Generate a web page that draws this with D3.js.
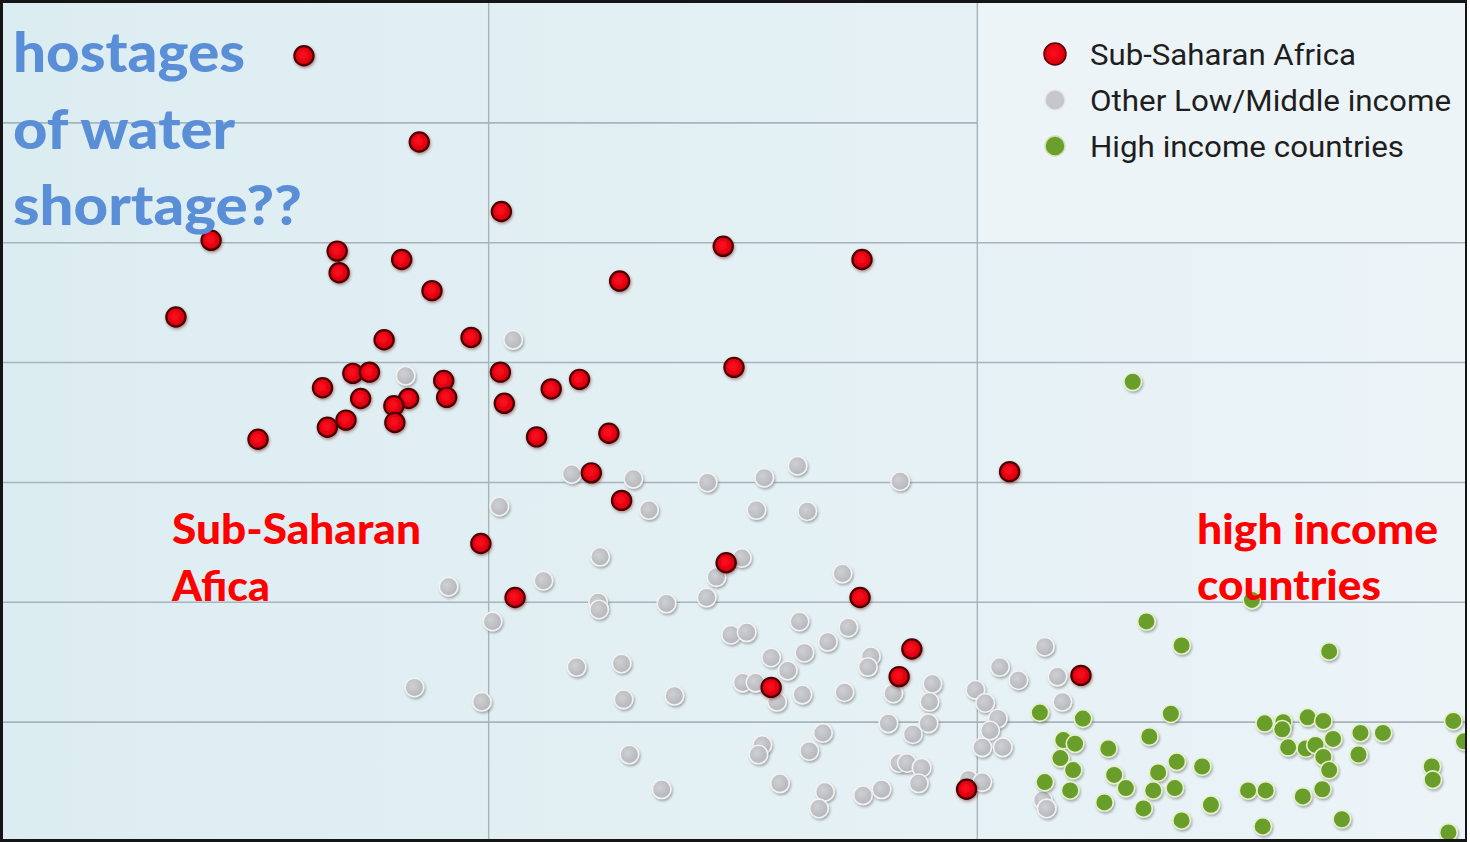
<!DOCTYPE html>
<html><head><meta charset="utf-8">
<script src="https://cdn.jsdelivr.net/npm/d3@7"></script>
<style>html,body{margin:0;padding:0;background:#fff;overflow:hidden}</style>
</head><body>
<svg id="chart" width="1470" height="842"></svg>
<script>
// Data (x: arbitrary 0-150 units, y: 0-70 units)
const africaX = [31.1,42.9,51.3,21.6,34.5,34.7,41.1,44.2,18.0,74.0,88.2,63.4,39.3,48.2,36.1,37.8,33.0,45.4,45.7,36.9,41.8,40.3,40.4,35.4,33.5,26.4,51.2,51.6,56.4,59.3,75.1,54.9,62.3,60.5,63.6,49.2,52.7,74.3,88.0,93.3,92.0,78.9,103.3,110.6,98.9];
const africaY = [65.6,58.4,52.6,50.2,49.3,47.5,48.6,46.0,43.8,49.7,48.6,46.8,41.9,42.1,39.1,39.2,37.9,38.5,37.1,37.0,37.0,36.4,35.0,35.2,34.6,33.6,39.2,36.6,37.8,38.6,39.6,33.8,34.1,30.8,28.5,24.9,20.4,23.3,20.4,16.1,13.8,12.9,30.9,13.9,4.4];

const otherX = [41.5,52.5,58.5,64.8,72.4,78.2,81.6,92.1,51.1,66.4,77.4,82.6,61.4,55.6,45.9,61.2,61.3,50.4,68.2,72.3,75.9,73.3,86.2,59.0,63.6,42.4,49.3,63.8,69.0,64.4,67.7,81.8,74.8,76.4,86.8,84.7,82.3,78.9,80.6,89.1,88.8,76.0,77.3,79.5,82.1,86.4,91.4,95.4,95.1,90.9,95.0,93.4,84.2,78.0,77.6,82.8,92.0,92.8,94.3,94.0,79.8,84.4,83.8,88.3,90.2,99.8,100.8,102.1,101.3,100.5,102.6,102.3,104.2,106.9,108.2,108.7,99.1,100.5,106.7,107.1];
const otherY = [38.9,41.9,30.7,30.3,30.0,30.4,31.4,30.1,28.0,27.7,27.7,27.6,23.8,21.8,21.3,20.0,19.4,18.4,19.9,20.4,23.7,22.1,22.4,14.6,14.9,12.9,11.7,11.9,12.2,7.3,4.4,18.4,17.3,17.5,17.9,16.7,15.8,15.4,14.3,15.5,14.6,13.3,13.3,11.7,12.3,12.5,12.4,13.2,11.7,9.9,9.9,9.0,9.1,8.1,7.3,7.6,6.6,6.6,6.2,4.9,4.9,4.2,2.8,3.9,4.4,12.7,11.6,10.3,9.3,7.9,7.9,14.6,13.5,16.3,13.8,11.7,5.2,5.0,3.5,2.8];

const highX = [115.9,128.1,117.3,120.9,136.0,106.4,110.8,119.8,129.4,131.3,133.8,135.4,131.2,139.2,141.5,148.7,149.8,108.8,110.0,113.4,117.6,131.8,133.6,134.6,136.4,135.4,139.0,108.5,109.8,120.4,123.0,118.5,136.0,146.5,146.6,106.9,109.5,114.0,115.2,118.0,120.2,127.7,129.5,135.3,133.3,113.0,117.0,123.9,120.9,129.2,137.3,148.2];
const highY = [38.4,20.2,18.4,16.4,15.9,10.8,10.3,10.7,9.9,10.0,10.4,10.1,9.4,9.1,9.1,10.1,8.4,8.5,8.2,7.8,8.8,7.9,7.8,8.1,8.6,7.1,7.3,7.0,6.0,6.7,6.3,5.8,6.0,6.3,5.2,5.0,4.3,5.6,4.5,4.3,4.5,4.3,4.3,4.4,3.8,3.3,2.8,3.1,1.8,1.3,1.9,0.8];

const xGridValues = [50, 100];
const yGridValues = [10, 20, 30, 40, 50, 60];
const legendLabels = ["Sub-Saharan Africa", "Other Low/Middle income", "High income countries"];
const titleLines = ["hostages", "of water", "shortage??"];
const africaNote = ["Sub-Saharan", "Afica"];
const highNote = ["high income", "countries"];

const svg = d3.select("#chart");
const W = 1470, H = 842;
const x = d3.scaleLinear().domain([0, 150]).range([0, 1466]);
const y = d3.scaleLinear().domain([0, 70]).range([842, 3]);

const defs = svg.append("defs");
const bg = defs.append("linearGradient").attr("id","bg").attr("x1","0").attr("x2","1").attr("y1","0").attr("y2","0");
bg.append("stop").attr("offset","0").attr("stop-color","#dcedf1");
bg.append("stop").attr("offset","0.5").attr("stop-color","#e3f0f4");
bg.append("stop").attr("offset","1").attr("stop-color","#ecf4f8");
const sh = defs.append("filter").attr("id","sh").attr("x","-50%").attr("y","-50%").attr("width","200%").attr("height","200%");
sh.append("feDropShadow").attr("dx",1.2).attr("dy",1.8).attr("stdDeviation",1.2).attr("flood-color","#555").attr("flood-opacity",0.45);
const shr = defs.append("filter").attr("id","shr").attr("x","-50%").attr("y","-50%").attr("width","200%").attr("height","200%");
shr.append("feDropShadow").attr("dx",0.8).attr("dy",1.5).attr("stdDeviation",1.5).attr("flood-color","#600").attr("flood-opacity",0.45);
const rg = defs.append("radialGradient").attr("id","redg").attr("cx","0.45").attr("cy","0.45").attr("r","0.6");
rg.append("stop").attr("offset","0").attr("stop-color","#ff1020");
rg.append("stop").attr("offset","0.7").attr("stop-color","#e0000e");
rg.append("stop").attr("offset","1").attr("stop-color","#b0000a");
const gg = defs.append("radialGradient").attr("id","grayg").attr("cx","0.4").attr("cy","0.4").attr("r","0.65");
gg.append("stop").attr("offset","0").attr("stop-color","#cfd0d4");
gg.append("stop").attr("offset","1").attr("stop-color","#b4b5ba");

svg.append("rect").attr("x",0).attr("y",0).attr("width",W).attr("height",H).attr("fill","url(#bg)");
// lighter legend area
svg.append("rect").attr("x", x(100)+2).attr("y", 3).attr("width", 1462 - x(100) - 2).attr("height", y(50) - 4).attr("fill","#edf4f8");

// grid
const g = svg.append("g");
yGridValues.forEach(v => {
  g.append("line").attr("x1", 0).attr("x2", v === 60 ? x(100) : 1466)
    .attr("y1", y(v)).attr("y2", y(v)).attr("stroke","#a8b4ba").attr("stroke-width",1.6);
});
xGridValues.forEach(v => {
  g.append("line").attr("x1", x(v)).attr("x2", x(v)).attr("y1", 0).attr("y2", H)
    .attr("stroke","#a8b4ba").attr("stroke-width",1.4);
});

// points
const otherData = otherX.map((v,i)=>({x:v,y:otherY[i]}));
const highData = highX.map((v,i)=>({x:v,y:highY[i]}));
const afrData = africaX.map((v,i)=>({x:v,y:africaY[i]}));

svg.append("g").selectAll("circle").data(otherData).join("circle")
  .attr("cx", d=>x(d.x)).attr("cy", d=>y(d.y)).attr("r", 9.3)
  .attr("fill","url(#grayg)").attr("stroke","#f3f3f3").attr("stroke-width",1.6).attr("filter","url(#sh)");
svg.append("g").selectAll("circle").data(highData).join("circle")
  .attr("cx", d=>x(d.x)).attr("cy", d=>y(d.y)).attr("r", 8.8)
  .attr("fill","#6a9e2b").attr("stroke","#e6f2cc").attr("stroke-width",1.6).attr("filter","url(#sh)");
svg.append("g").selectAll("circle").data(afrData).join("circle")
  .attr("cx", d=>x(d.x)).attr("cy", d=>y(d.y)).attr("r", 9.6)
  .attr("fill","url(#redg)").attr("stroke","#4a0005").attr("stroke-width",2.2).attr("filter","url(#shr)");

// legend
const legColors = [
  {fill:"url(#redg)", stroke:"#5a0008", r:11},
  {fill:"#c6c7cb", stroke:"#e6e6e6", r:10},
  {fill:"#6b9f2c", stroke:"#cfe3b0", r:10}
];
const legW = [266, 361, 314];
legendLabels.forEach((t,i) => {
  const cy = 54 + i*46;
  svg.append("circle").attr("cx",1055).attr("cy",cy).attr("r",legColors[i].r)
    .attr("fill",legColors[i].fill).attr("stroke",legColors[i].stroke).attr("stroke-width",1.5);
  svg.append("text").attr("x",1090).attr("y",cy+11).text(t)
    .attr("font-family","Roboto, 'Noto Sans', sans-serif").attr("font-size",30)
    .attr("fill","#1e1e1e").attr("textLength",legW[i]).attr("lengthAdjust","spacingAndGlyphs");
});

// annotations
const titleW = [232, 222, 289];
titleLines.forEach((t,i) => {
  svg.append("text").attr("x",13).attr("y",72 + i*76.5).text(t)
    .attr("font-family","Lato, 'Open Sans', sans-serif").attr("font-weight","900")
    .attr("font-size",56).attr("fill","#5a8fd8")
    .attr("textLength",titleW[i]).attr("lengthAdjust","spacingAndGlyphs");
});
const afW = [249, 98];
africaNote.forEach((t,i) => {
  svg.append("text").attr("x",172).attr("y",544 + i*57).text(t)
    .attr("font-family","Lato, 'Open Sans', sans-serif").attr("font-weight","900")
    .attr("font-size",42).attr("fill","#ff0000")
    .attr("textLength",afW[i]).attr("lengthAdjust","spacingAndGlyphs");
});
const hiW = [241, 184];
highNote.forEach((t,i) => {
  svg.append("text").attr("x",1197).attr("y",544 + i*56).text(t)
    .attr("font-family","Lato, 'Open Sans', sans-serif").attr("font-weight","900")
    .attr("font-size",42).attr("fill","#ff0000")
    .attr("textLength",hiW[i]).attr("lengthAdjust","spacingAndGlyphs");
});

// frame
svg.append("rect").attr("x",1.5).attr("y",1.5).attr("width",1465).attr("height",839)
  .attr("fill","none").attr("stroke","#151515").attr("stroke-width",3);
svg.append("rect").attr("x",1467).attr("y",0).attr("width",3).attr("height",H).attr("fill","#ffffff");
</script>
</body></html>
